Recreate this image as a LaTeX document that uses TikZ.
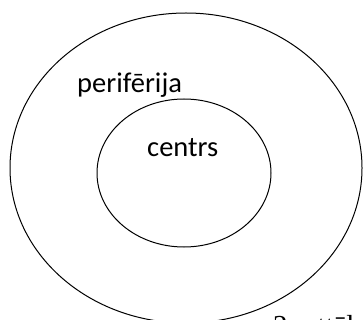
\documentclass[tikz,border=0pt]{standalone}
\usepackage{fontspec}
\setmainfont{Carlito}
\newfontfamily\capfont{Liberation Serif}
\usepackage{tikz}
\usetikzlibrary{shapes.geometric, positioning}

\begin{document}
\begin{tikzpicture}[
  x=1pt, y=-1pt,
  ring/.style={draw, ellipse, line width=1pt, inner sep=0pt},
  label/.style={inner sep=0pt, font=\fontsize{28.5}{34}\selectfont},
  caption/.style={inner sep=0pt, font=\capfont\fontsize{29}{34}\selectfont}
]
\useasboundingbox (0,0) rectangle (363,320);

\node[ring, minimum width=352pt, minimum height=310pt] (outer) at (186,168) {};
\node[ring, minimum width=174pt, minimum height=148pt] (inner) at (184,173) {};

\node[label, anchor=base west] (per) at (77,93) {perifērija};
\node[label, anchor=base west] (cen) at (147,157) {centrs};

% figure caption, mostly cut off by the page edge
\node[caption, anchor=base west] (cap) at (273,335) {2. attēls};
\end{tikzpicture}
\end{document}
